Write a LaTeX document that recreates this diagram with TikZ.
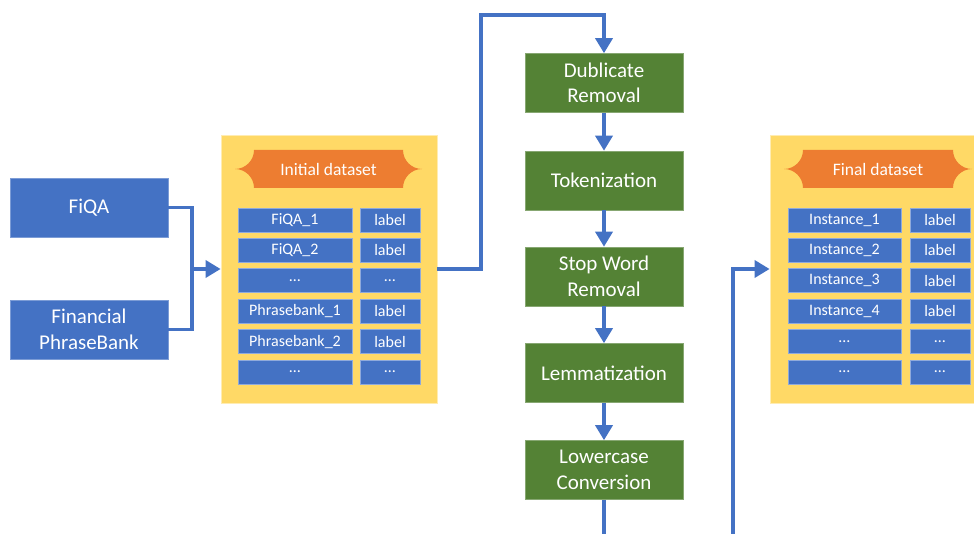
\documentclass[tikz,border=0pt]{standalone}
\usepackage{fontspec}
\setmainfont{Carlito}
\usetikzlibrary{arrows.meta}
\definecolor{boxblue}{HTML}{4472C4}
\definecolor{stepgreen}{HTML}{548235}
\definecolor{panelyellow}{HTML}{FFD966}
\definecolor{bannerorange}{HTML}{ED7D31}

% Banner with concave rounded ends: left/right x, top/bottom y (y grows downward)
\newcommand{\bannerpath}[4]{%
  \pgfmathsetmacro{\rr}{(#4-#3)/2}%
  \pgfmathsetmacro{\kk}{0.552*\rr}%
  \fill[bannerorange]
    (#1+\rr,#3) -- (#2-\rr,#3)
    .. controls (#2-\rr,#3+\kk) and (#2-\kk,#3+\rr) .. (#2,#3+\rr)
    .. controls (#2-\kk,#4-\rr) and (#2-\rr,#4-\kk) .. (#2-\rr,#4)
    -- (#1+\rr,#4)
    .. controls (#1+\rr,#4-\kk) and (#1+\kk,#4-\rr) .. (#1,#4-\rr)
    .. controls (#1+\kk,#3+\rr) and (#1+\rr,#3+\kk) .. (#1+\rr,#3) -- cycle;}

\begin{document}
\begin{tikzpicture}[x=1pt,y=-1pt,
  source/.style={fill=boxblue, draw=boxblue!70!white, line width=0.6pt,
    minimum width=158pt, minimum height=59pt, inner sep=0pt, align=center,
    text=white, font=\fontsize{21}{25.5}\selectfont},
  stepbox/.style={fill=stepgreen, draw=stepgreen!70!white, line width=0.6pt,
    minimum width=158pt, minimum height=59pt, inner sep=0pt, align=center,
    text=white, font=\fontsize{21}{25.5}\selectfont},
  panel/.style={fill=panelyellow, draw=panelyellow!50!white, line width=0.8pt,
    minimum width=216pt, minimum height=268pt, inner sep=0pt},
  cell/.style={fill=boxblue, draw=boxblue!60!white, line width=0.6pt,
    minimum height=24pt, inner sep=0pt, text=white,
    font=\fontsize{16}{19}\selectfont},
  bannertext/.style={text=white, font=\fontsize{17.5}{21}\selectfont, inner sep=0pt},
  flow/.style={draw=boxblue, line width=3.5pt},
  arrow/.style={flow, -{Triangle[length=15pt,width=17pt]}}
]
\useasboundingbox (0,0) rectangle (974,534);
\clip (0,0) rectangle (974,534);

% sources
\node[source] (fiqa) at (89,207.5) {FiQA};
\node[source] (pbank) at (89,329.5) {Financial\\PhraseBank};

% initial dataset panel
\node[panel] (init) at (329,269) {};
\bannerpath{235}{422}{150}{188}
\node[bannertext] (inittitle) at (328.5,169) {Initial dataset};
\foreach \k/\txt/\lab in {1/FiQA\_1/label, 2/FiQA\_2/label, 3/…/…,
    4/Phrasebank\_1/label, 5/Phrasebank\_2/label, 6/…/…} {
  \node[cell, minimum width=114pt] (initL\k) at (295,{220+30.4*(\k-1)}) {\txt};
  \node[cell, minimum width=60pt] (initR\k) at (390,{220+30.4*(\k-1)}) {\lab};
}

% preprocessing steps
\node[stepbox] (dedup) at (604,83) {Dublicate\\Removal};
\node[stepbox] (token) at (604,180.5) {Tokenization};
\node[stepbox] (stopw) at (604,276.5) {Stop Word\\Removal};
\node[stepbox] (lemma) at (604,373) {Lemmatization};
\node[stepbox] (lower) at (604,470) {Lowercase\\Conversion};

% final dataset panel
\node[panel] (final) at (878,269) {};
\bannerpath{784}{972}{150}{188}
\node[bannertext] (finaltitle) at (878,169) {Final dataset};
\foreach \k/\txt/\lab in {1/Instance\_1/label, 2/Instance\_2/label,
    3/Instance\_3/label, 4/Instance\_4/label, 5/…/…, 6/…/…} {
  \node[cell, minimum width=113pt] (finL\k) at (844.5,{220+30.4*(\k-1)}) {\txt};
  \node[cell, minimum width=60pt] (finR\k) at (940,{220+30.4*(\k-1)}) {\lab};
}

% routing points
\coordinate (join) at (192,269);
\coordinate (upA) at (481,269);
\coordinate (upB) at (481,15);
\coordinate (downA) at (604,534);
\coordinate (backA) at (733,534);
\coordinate (backB) at (733,269);

% connectors
\draw[flow] (fiqa.east) -| (join);
\draw[flow] (pbank.east) -| (join);
\draw[arrow] (join) -- (init.west);
\draw[arrow] (init.east) -- (upA) -- (upB) -| (dedup.north);
\draw[arrow] (dedup) -- (token);
\draw[arrow] (token) -- (stopw);
\draw[arrow] (stopw) -- (lemma);
\draw[arrow] (lemma) -- (lower);
\draw[flow] (lower.south) -- (downA);
\draw[arrow] (backA) -- (backB) -- (final.west);
\end{tikzpicture}
\end{document}
